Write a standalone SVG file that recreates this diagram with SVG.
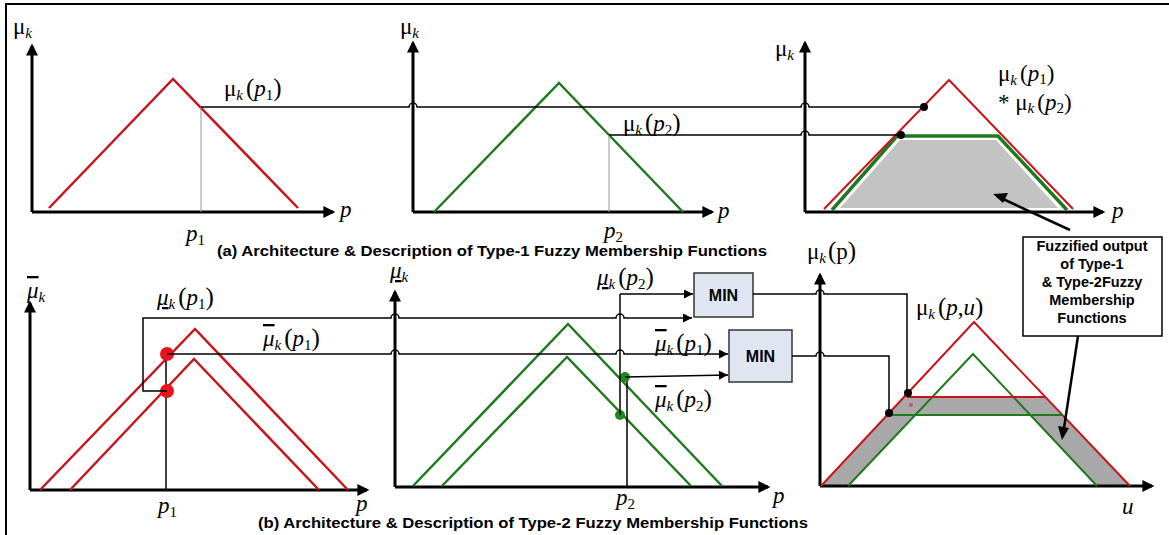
<svg xmlns="http://www.w3.org/2000/svg" width="1169" height="535" viewBox="0 0 1169 535">
<style>
.ax{fill:none;stroke:#000;stroke-width:3;marker-end:url(#ah)}
.ln{fill:none;stroke:#000;stroke-width:1.5}
.lna{fill:none;stroke:#000;stroke-width:1.5;marker-end:url(#sa)}
.gv{fill:none;stroke:#999;stroke-width:1}
.red{fill:none;stroke:#c8141c;stroke-width:2.5;stroke-linejoin:miter}
.grn{fill:none;stroke:#1f7a1f;stroke-width:2.5}
.m{font-family:"Liberation Serif","DejaVu Serif",serif;font-size:23px;fill:#000}
.i{font-style:italic}
.s{font-size:15px;font-style:italic}
.n{font-size:15px}
.pr{font-size:25px}
.ob{font-style:italic;text-decoration:overline}
.ub{font-style:italic;text-decoration:underline}
.cap{font-family:"Liberation Sans",Arial,sans-serif;font-weight:bold;font-size:14px;fill:#000}
.bx{font-family:"Liberation Sans",Arial,sans-serif;font-weight:bold;font-size:14.5px;fill:#000;text-anchor:middle}
.min{font-family:"Liberation Sans",Arial,sans-serif;font-weight:bold;font-size:16px;fill:#000;text-anchor:middle}
.mb{fill:#dfe6f2;stroke:#333;stroke-width:1.5}
</style>
<defs>
<marker id="ah" viewBox="0 0 10 10" refX="8" refY="5" markerWidth="14" markerHeight="12" markerUnits="userSpaceOnUse" orient="auto"><path d="M0,0 L10,5 L0,10 z" fill="#000"/></marker>
<marker id="sa" viewBox="0 0 10 10" refX="10" refY="5" markerWidth="11" markerHeight="9" markerUnits="userSpaceOnUse" orient="auto"><path d="M0,0 L10,5 L0,10 z" fill="#000"/></marker>
</defs>
<rect x="0" y="0" width="1169" height="535" fill="#fff"/>
<path d="M6,540 V4 H1175" fill="none" stroke="#000" stroke-width="2"/>

<g id="panel-a1">
<path class="ax" d="M32,212 V46"/>
<path class="ax" d="M32,212 H333"/>
<polyline class="red" points="49,208 173,79 298,208"/>
<line class="gv" x1="201" y1="107" x2="201" y2="212"/>
<text class="m" x="13" y="34">μ<tspan class="s" dy="4">k</tspan></text>
<text class="m" x="224" y="96">μ<tspan class="s" dy="4">k</tspan><tspan class="pr" dx="3" dy="-4">(</tspan><tspan class="i">p</tspan><tspan class="n" dy="4">1</tspan><tspan class="pr" dy="-4">)</tspan></text>
<text class="m i" x="340" y="217">p</text>
<text class="m" x="186" y="241"><tspan class="i">p</tspan><tspan class="n" dy="4">1</tspan></text>
</g>

<g id="panel-a2">
<path class="ax" d="M413,212 V43"/>
<path class="ax" d="M413,212 H712"/>
<polyline class="grn" points="434,212 559,83 683,212"/>
<line class="gv" x1="609" y1="135" x2="609" y2="212"/>
<text class="m" x="400" y="34">μ<tspan class="s" dy="4">k</tspan></text>
<text class="m" x="623" y="131">μ<tspan class="s" dy="4">k</tspan><tspan class="pr" dx="3" dy="-4">(</tspan><tspan class="i">p</tspan><tspan class="n" dy="4">2</tspan><tspan class="pr" dy="-4">)</tspan></text>
<text class="m i" x="718" y="218">p</text>
<text class="m" x="604" y="238"><tspan class="i">p</tspan><tspan class="n" dy="4">2</tspan></text>
</g>

<g id="panel-a3">
<path class="ax" d="M805,212 V43"/>
<path class="ax" d="M805,212 H1103"/>
<polygon points="840,208 900,140 996,140 1058,208" fill="#c3c3c3"/>
<polyline points="832,210 897,136 998,136 1067,210" fill="none" stroke="#1f7a1f" stroke-width="3.5"/>
<polyline points="824,209 949,80 1073,209" fill="none" stroke="#c8141c" stroke-width="2"/>
<text class="m" x="775" y="56">μ<tspan class="s" dy="4">k</tspan></text>
<text class="m" x="998" y="81">μ<tspan class="s" dy="4">k</tspan><tspan dx="3" dy="-4">(</tspan><tspan class="i">p</tspan><tspan class="n" dy="3">1</tspan><tspan dy="-3">)</tspan></text>
<text class="m" x="998" y="110">* μ<tspan class="s" dy="3">k</tspan><tspan dx="3" dy="-3">(</tspan><tspan class="i">p</tspan><tspan class="n" dy="3">2</tspan><tspan dy="-3">)</tspan></text>
<text class="m i" x="1112" y="218">p</text>
</g>

<text class="cap" x="217" y="256" textLength="550" lengthAdjust="spacingAndGlyphs">(a) Architecture &amp; Description of Type-1 Fuzzy Membership Functions</text>

<g id="output-box">
<rect x="1023" y="237" width="139" height="99" fill="#fff" stroke="#000" stroke-width="1.5"/>
<text class="bx" x="1092" y="251">Fuzzified output</text>
<text class="bx" x="1092" y="269">of Type-1</text>
<text class="bx" x="1092" y="287">&amp; Type-2Fuzzy</text>
<text class="bx" x="1092" y="305">Membership</text>
<text class="bx" x="1092" y="323">Functions</text>
</g>

<g id="panel-b1">
<path class="ax" d="M30,490 V303"/>
<path class="ax" d="M30,490 H367"/>
<polyline class="red" points="40,490 195,329 348,490"/>
<polyline class="red" points="70,490 194,359 319,490"/>
<line class="ln" x1="166" y1="355" x2="166" y2="490"/>
<circle cx="167" cy="354" r="7" fill="#e8141c"/>
<circle cx="167" cy="391" r="7" fill="#e8141c"/>
<text class="m" x="27" y="298"><tspan class="ob">μ</tspan><tspan class="s" dy="4">k</tspan></text>
<text class="m" x="157" y="305"><tspan class="ub">μ</tspan><tspan class="s" dy="4">k</tspan><tspan class="pr" dx="3" dy="-4">(</tspan><tspan class="i">p</tspan><tspan class="n" dy="4">1</tspan><tspan class="pr" dy="-4">)</tspan></text>
<text class="m" x="263" y="346"><tspan class="ob">μ</tspan><tspan class="s" dy="4">k</tspan><tspan class="pr" dx="3" dy="-4">(</tspan><tspan class="i">p</tspan><tspan class="n" dy="4">1</tspan><tspan class="pr" dy="-4">)</tspan></text>
<text class="m" x="158" y="513"><tspan class="i">p</tspan><tspan class="n" dy="4">1</tspan></text>
<text class="m i" x="356" y="511">p</text>
</g>

<g id="panel-b2">
<path class="ax" d="M395,487 V292"/>
<path class="ax" d="M395,487 H768"/>
<polyline class="grn" points="413,486 568,324 722,486"/>
<polyline class="grn" points="442,486 567,357 691,486"/>
<line class="ln" x1="627" y1="377" x2="627" y2="487"/>
<circle cx="625" cy="377" r="5" fill="#1e8a1e"/>
<circle cx="620" cy="415" r="5" fill="#1e8a1e"/>
<text class="m" x="390" y="278"><tspan class="ub">μ</tspan><tspan class="s" dy="4">k</tspan></text>
<text class="m" x="597" y="285"><tspan class="ub">μ</tspan><tspan class="s" dy="4">k</tspan><tspan class="pr" dx="3" dy="-4">(</tspan><tspan class="i">p</tspan><tspan class="n" dy="4">2</tspan><tspan class="pr" dy="-4">)</tspan></text>
<text class="m" x="655" y="351"><tspan class="ob">μ</tspan><tspan class="s" dy="4">k</tspan><tspan class="pr" dx="3" dy="-4">(</tspan><tspan class="i">p</tspan><tspan class="n" dy="4">1</tspan><tspan class="pr" dy="-4">)</tspan></text>
<text class="m" x="655" y="407"><tspan class="ob">μ</tspan><tspan class="s" dy="4">k</tspan><tspan class="pr" dx="3" dy="-4">(</tspan><tspan class="i">p</tspan><tspan class="n" dy="4">2</tspan><tspan class="pr" dy="-4">)</tspan></text>
<text class="m" x="616" y="505"><tspan class="i">p</tspan><tspan class="n" dy="4">2</tspan></text>
<text class="m i" x="773" y="503">p</text>
</g>

<g id="min1">
<rect class="mb" x="694" y="273" width="59" height="44"/>
<text class="min" x="723.5" y="301">MIN</text>
</g>
<g id="min2">
<rect class="mb" x="729" y="330" width="63" height="52"/>
<text class="min" x="760.5" y="362">MIN</text>
</g>

<g id="panel-b3">
<path d="M821,486 L904,397 L1045,397 L1130,486 Z M848,486 L915,415 L1030,415 L1097,486 Z" fill="#a8a8a8" fill-rule="evenodd"/>
<path class="ax" d="M820,486 V275"/>
<path class="ax" d="M820,486 H1152"/>
<polyline points="821,486 974,322 1130,486" fill="none" stroke="#c8141c" stroke-width="2"/>
<polyline points="848,486 973,354 1097,486" fill="none" stroke="#1f7a1f" stroke-width="2"/>
<line x1="907" y1="397" x2="1045" y2="397" stroke="#c8141c" stroke-width="2"/>
<line x1="889" y1="415" x2="1063" y2="415" stroke="#1f7a1f" stroke-width="2"/>
<circle cx="911" cy="405" r="2" fill="#d05070"/>
<text class="m" x="807" y="259">μ<tspan class="s" dy="4">k</tspan><tspan class="pr" dx="2" dy="-4">(</tspan>p<tspan class="pr">)</tspan></text>
<text class="m" x="916" y="315">μ<tspan class="s" dy="4">k</tspan><tspan class="pr" dx="3" dy="-4">(</tspan><tspan class="i">p</tspan>,<tspan class="i">u</tspan><tspan class="pr">)</tspan></text>
<text class="m i" x="1122" y="514">u</text>
</g>

<g id="connectors">
<path class="ln" d="M201,107 H409 a4,4 0 0 1 8,0 H801 a4,4 0 0 1 8,0 H924"/>
<circle cx="924" cy="107" r="4" fill="#000"/>
<path class="ln" d="M609,135 H801 a4,4 0 0 1 8,0 H901"/>
<circle cx="901" cy="135" r="4" fill="#000"/>
<path d="M1070,230 L1003,199" fill="none" stroke="#000" stroke-width="2.5"/>
<path d="M993,194 L1008,193 L1003,203 z" fill="#000"/>
<path class="lna" d="M167,391 H143 V318 H391 a4,4 0 0 1 8,0 H616 a4,4 0 0 1 8,0 H692"/>
<path class="lna" d="M167,354 H391 a4,4 0 0 1 8,0 H616 a4,4 0 0 1 8,0 H728"/>
<path class="ln" d="M620,415 V294"/>
<path class="lna" d="M620,294 H693"/>
<path class="lna" d="M625,377 L728,375"/>
<path class="ln" d="M753,294 H816 a4,4 0 0 1 8,0 H907 V393"/>
<path class="ln" d="M792,356 H816 a4,4 0 0 1 8,0 H889 V413"/>
<circle cx="908" cy="393" r="4" fill="#000"/>
<circle cx="889" cy="413" r="4" fill="#000"/>
<path d="M1078,336 L1064,428" fill="none" stroke="#000" stroke-width="2.5"/>
<path d="M1062,440 L1058,426 L1069,428 z" fill="#000"/>
</g>

<text class="cap" x="258" y="528" textLength="550" lengthAdjust="spacingAndGlyphs">(b) Architecture &amp; Description of Type-2 Fuzzy Membership Functions</text>
</svg>
